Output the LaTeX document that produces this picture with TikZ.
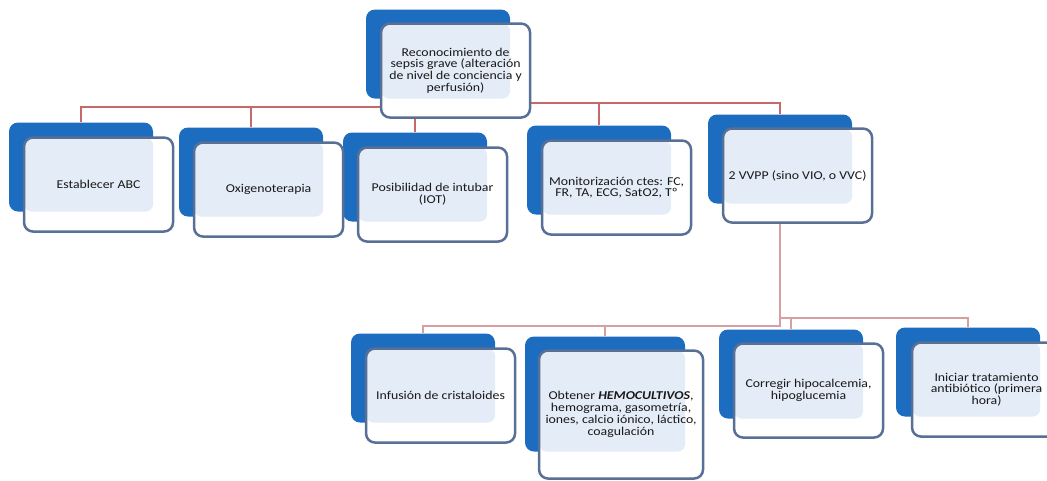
\documentclass[tikz,border=0pt]{standalone}
\usepackage{fontspec}
\setmainfont{Carlito}[FakeStretch=1.15]
\usepackage{xcolor}
\usetikzlibrary{backgrounds}
\definecolor{boxblue}{RGB}{28,108,192}
\definecolor{boxline}{RGB}{88,112,150}
\definecolor{boxlight}{RGB}{228,236,247}
\definecolor{linkred}{RGB}{200,105,105}
\definecolor{linkpink}{RGB}{214,160,160}

\begin{document}
\begin{tikzpicture}[x=1pt,y=-1pt,
  back/.style={fill=boxblue,rounded corners=9pt,minimum width=144pt,minimum height=89pt,inner sep=0pt},
  front/.style={draw=boxline,line width=2.5pt,rounded corners=9pt,fill=white,minimum width=149pt,minimum height=94pt,
    inner sep=2pt,align=center,anchor=north west,text=black!90,font=\fontsize{12}{11.8}\selectfont,
    path picture={\fill[boxlight,rounded corners=8pt] (path picture bounding box.north west) rectangle (#1.south east);}},
  link/.style={linkred,line width=2.9pt},
  sublink/.style={linkpink,line width=2.9pt}]
\useasboundingbox (0,0) rectangle (1047,480);

\foreach \n/\x/\y in {top/438/54,est/81/167,oxi/251/172,iot/415/177,mon/599/170,vvpp/780/159,inf/423/378,cor/791/374,ini/968/372}
\node[back] (\n) at (\x,\y) {};
\node[back,minimum width=160pt,minimum height=115pt] (hem) at (605,394) {};

\node[front=top] (topT) at ([shift={(14,13)}]top.north west) {Reconocimiento de\\sepsis grave (alteración\\de nivel de conciencia y\\perfusión)};
\node[front=est] (estT) at ([shift={(14,14)}]est.north west) {Establecer ABC};
\node[front=oxi] (oxiT) at ([shift={(14,14)}]oxi.north west) {Oxigenoterapia};
\node[front=iot] (iotT) at ([shift={(14,14)}]iot.north west) {Posibilidad de intubar\\(IOT)};
\node[front=mon] (monT) at ([shift={(14,14)}]mon.north west) {Monitorización ctes: FC,\\FR, TA, ECG, SatO2, Tº};
\node[front=vvpp] (vvppT) at ([shift={(14,13)}]vvpp.north west) {2 VVPP (sino VIO, o VVC)};
\node[front=inf] (infT) at ([shift={(14,14)}]inf.north west) {Infusión de cristaloides};
\node[front=hem,minimum width=164pt,minimum height=128pt] (hemT) at ([shift={(13,13)}]hem.north west) {Obtener \textbf{\textit{HEMOCULTIVOS}},\\hemograma, gasometría,\\iones, calcio iónico, láctico,\\coagulación};
\node[front=cor] (corT) at ([shift={(14,13)}]cor.north west) {Corregir hipocalcemia,\\hipoglucemia};
\node[front=ini] (iniT) at ([shift={(15,14)}]ini.north west) {Iniciar tratamiento\\antibiótico (primera\\hora)};

\begin{scope}[on background layer]
\draw[link] (top.center) -- ++(0,53) -| (est);
\draw[link] (top.center) -- ++(0,53) -| (oxi);
\draw[link] (top.center) -- ++(0,53) -| (iot);
\draw[link] (top.center) -- ++(0,49) -| (mon);
\draw[link] (top.center) -- ++(0,49) -| (vvpp);
\draw[sublink] (vvpp.center) -- ++(0,167) -| (inf);
\draw[sublink] (vvpp.center) -- ++(0,167) -| (hem);
\draw[sublink] (vvpp.center) -- ++(0,159) -| (cor);
\draw[sublink] (vvpp.center) -- ++(0,159) -| (ini);
\end{scope}
\end{tikzpicture}
\end{document}
